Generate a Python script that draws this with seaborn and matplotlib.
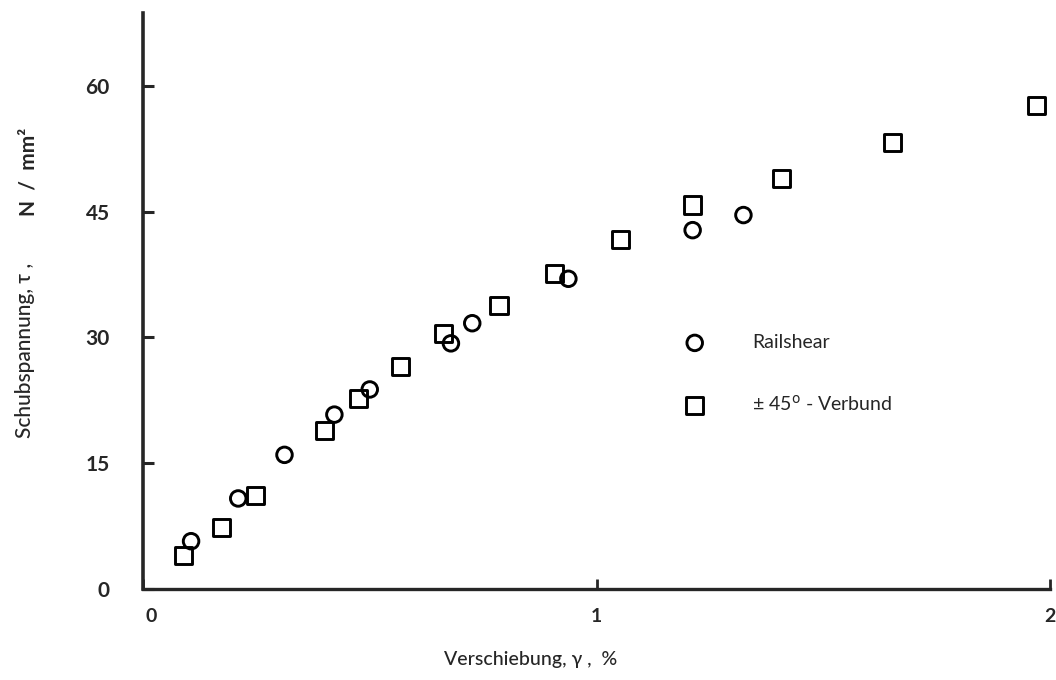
import matplotlib
matplotlib.use('Agg')
import matplotlib.pyplot as plt
import matplotlib.transforms as mtrans
import seaborn as sns
import pandas as pd

# ---- data ----
rail_x = [0.106, 0.21, 0.312, 0.422, 0.50, 0.679, 0.726, 0.938, 1.212, 1.324]
rail_y = [5.7, 10.8, 16.0, 20.8, 23.8, 29.3, 31.7, 37.0, 42.8, 44.6]
verb_x = [0.089, 0.174, 0.249, 0.40, 0.476, 0.567, 0.662, 0.785, 0.908,
          1.052, 1.212, 1.407, 1.652, 1.971]
verb_y = [4.05, 7.35, 11.1, 18.95, 22.7, 26.5, 30.5, 33.85, 37.6,
          41.7, 45.8, 49.0, 53.2, 57.7]
series_labels = ['Railshear', '± 45$^{\\mathsf{o}}$ - Verbund']
x_ticks = [0, 1, 2]
y_ticks = [0, 15, 30, 45, 60]
x_label = 'Verschiebung, γ ,  %'
y_label = 'Schubspannung, τ ,'
y_unit = 'N  /  mm²'

sns.set_style('ticks')
plt.rcParams['font.family'] = ['Lato', 'DejaVu Sans']
plt.rcParams['mathtext.fontset'] = 'dejavusans'

fig = plt.figure(figsize=(10.56, 6.8), dpi=100)
ax = fig.add_axes([143/1056, 1 - 589/680, (1050-143)/1056, (589-13)/680])

df_r = pd.DataFrame({'x': rail_x, 'y': rail_y})
df_v = pd.DataFrame({'x': verb_x, 'y': verb_y})
sns.scatterplot(data=df_r, x='x', y='y', marker='o', s=125, facecolors='none',
                edgecolors='black', linewidth=2.1, label=series_labels[0], ax=ax, zorder=3)
sns.scatterplot(data=df_v, x='x', y='y', marker='s', s=150, facecolors='none',
                edgecolors='black', linewidth=2.1, label=series_labels[1], ax=ax, zorder=3)

ax.set_xlim(0, 2)
ax.set_ylim(0, 68.7)
ax.set_xticks(x_ticks)
ax.set_yticks(y_ticks)
ax.set_xticklabels([str(t) for t in x_ticks], fontweight='bold', fontsize=14)
ax.set_yticklabels([str(t) for t in y_ticks], fontweight='bold', fontsize=15)
ax.tick_params(axis='y', direction='in', length=8, width=2.2, pad=24)
ax.tick_params(axis='x', direction='in', length=7, width=2.0, pad=14)

# the "0" on the x axis sits slightly right of the spine in the reference
lbl0 = ax.get_xticklabels()[0]
lbl0.set_transform(lbl0.get_transform() + mtrans.ScaledTranslation(8/100, 0, fig.dpi_scale_trans))

for side in ['top', 'right']:
    ax.spines[side].set_visible(False)
ax.spines['left'].set_linewidth(2.6)
ax.spines['bottom'].set_linewidth(2.4)

ax.set_xlabel(x_label, fontsize=14, fontweight='medium')
ax.set_ylabel(y_label, fontsize=15, fontweight='medium')
ax.xaxis.set_label_coords((531-143)/(1050-143), -(660-589)/(589-13), transform=ax.transAxes)
ax.yaxis.set_label_coords(-(143-25)/(1050-143), (589-350)/(589-13), transform=ax.transAxes)
ax.xaxis.label.set_va('center')
ax.yaxis.label.set_va('center')
ax.text(-(143-28)/(1050-143), (589-172)/(589-13), y_unit, rotation=90,
        ha='center', va='center', fontsize=15, fontweight='bold',
        transform=ax.transAxes)

leg = ax.legend(loc='upper left', bbox_to_anchor=(685/1056, 1 - 334/680),
                bbox_transform=fig.transFigure, frameon=False, fontsize=14,
                handlelength=1.0, handletextpad=2.45, labelspacing=2.2,
                borderpad=0, borderaxespad=0)

fig.savefig('out.png', dpi=100, facecolor='white')
